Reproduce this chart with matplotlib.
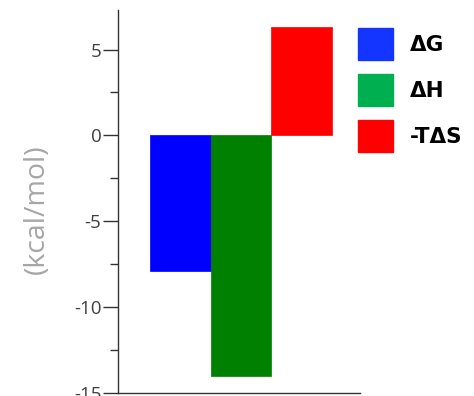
import matplotlib
matplotlib.use("Agg")
import matplotlib.pyplot as plt
from matplotlib.patches import Patch
from matplotlib.ticker import MultipleLocator

labels = ["\u0394G", "\u0394H", "-T\u0394S"]
values = [-7.9, -14.0, 6.3]
bar_colors = ["#0000FF", "#008000", "#FF0000"]
legend_colors = ["#1434FF", "#00B050", "#FF0000"]
yticks = [-15, -10, -5, 0, 5]

fig = plt.figure(figsize=(4.74, 3.96), dpi=100)
ax = fig.add_axes([118/474, 3/396, 242/474, 383/396])

x = list(range(len(values)))
ax.bar(x, values, width=1.0, color=bar_colors, edgecolor=bar_colors, linewidth=0.5)

ax.set_xlim(-1.03, 2.97)
ax.set_ylim(-15, 7.3)
ax.set_yticks(yticks)
ax.set_yticklabels([str(t) for t in yticks], family="Open Sans")
ax.yaxis.set_minor_locator(MultipleLocator(2.5))
ax.set_xticks([])
for s in ["top", "right"]:
    ax.spines[s].set_visible(False)
for s in ["left", "bottom"]:
    ax.spines[s].set_color("#333333")
    ax.spines[s].set_linewidth(1.0)
ax.tick_params(axis="y", which="major", length=11, width=1.0, color="#333333",
               labelsize=13.5, labelcolor="#404040", pad=1)
ax.tick_params(axis="y", which="minor", length=6, width=1.0, color="#333333")
ax.set_ylabel("(kcal/mol)", fontsize=20.5, color="#A6A6A6", family="Open Sans")
ax.yaxis.set_label_coords(-0.276, 0.48)

handles = [Patch(facecolor=c, edgecolor=c) for c in legend_colors]
leg = fig.legend(handles, labels, loc="upper left", bbox_to_anchor=(358/474, 1 - 28/396),
                 frameon=False, prop={"size": 15.5, "weight": "bold", "family": "DejaVu Sans"},
                 handlelength=1.63, handleheight=1.9, labelspacing=0.66, handletextpad=0.8,
                 borderaxespad=0, borderpad=0)

fig.savefig("out.png", dpi=100)
